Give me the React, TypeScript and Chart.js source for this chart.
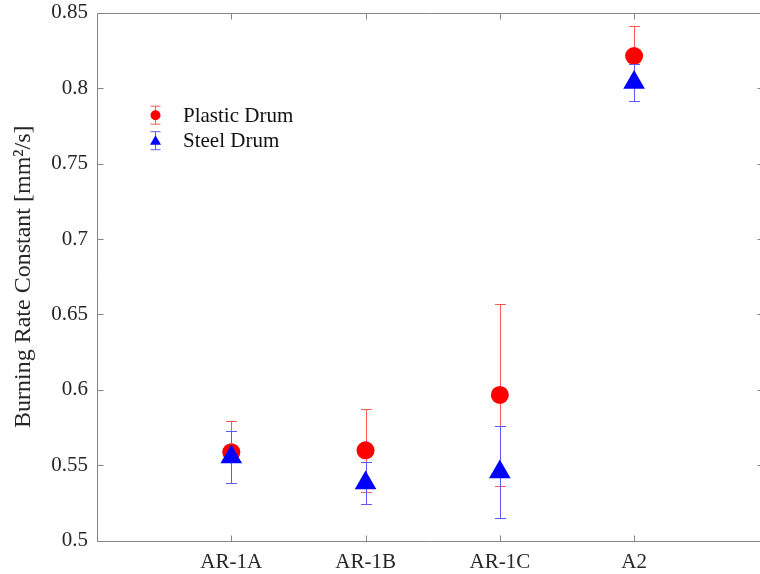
import React, { useEffect, useRef } from 'react';
import { Chart, registerables } from 'chart.js';

Chart.register(...registerables);

const categories = ['AR-1A', 'AR-1B', 'AR-1C', 'A2'];
const seriesNames = ['Plastic Drum', 'Steel Drum'];
const plasticValues = [0.5587, 0.5599, 0.5966, 0.8213];
const plasticErrors = [0.0207, 0.0276, 0.0603, 0.0201];
const steelValues = [0.5555, 0.5383, 0.5455, 0.8037];
const steelErrors = [0.017, 0.0141, 0.0305, 0.0121];
const yTicks = [0.5, 0.55, 0.6, 0.65, 0.7, 0.75, 0.8, 0.85];

const FONT = "'Liberation Serif', 'Times New Roman', serif";
const AXIS = '#858585';
const TEXT = '#262626';
const RED = '#ff0000';
const BLUE = '#0000ff';
const RED_BAR = '#ff5a5a';
const BLUE_BAR = '#5a5aff';

const errorsBySet = [plasticErrors, steelErrors];
const barColors = [RED_BAR, BLUE_BAR];

const errorBarPlugin = {
  id: 'errorBars',
  beforeDatasetDraw(chart: any, args: any) {
    const { ctx, scales } = chart;
    const idx = args.index;
    const ds = chart.data.datasets[idx];
    const errs = errorsBySet[idx];
    ctx.save();
    ctx.strokeStyle = barColors[idx];
    ctx.lineWidth = 1;
    ds.data.forEach((p: any, i: number) => {
      const x = Math.round(scales.x.getPixelForValue(p.x)) + 0.5;
      const yTop = Math.round(scales.y.getPixelForValue(p.y + errs[i])) + 0.5;
      const yBot = Math.round(scales.y.getPixelForValue(p.y - errs[i])) + 0.5;
      const cap = 5.5;
      ctx.beginPath();
      ctx.moveTo(x, yTop);
      ctx.lineTo(x, yBot);
      ctx.moveTo(x - cap, yTop);
      ctx.lineTo(x + cap, yTop);
      ctx.moveTo(x - cap, yBot);
      ctx.lineTo(x + cap, yBot);
      ctx.stroke();
    });
    ctx.restore();
  },
};

const boxPlugin = {
  id: 'axisBox',
  beforeDatasetsDraw(chart: any) {
    const { ctx, chartArea: a, scales } = chart;
    const L = Math.round(a.left) + 0.5;
    const R = Math.round(a.right) + 0.5;
    const T = Math.round(a.top) + 0.5;
    const B = Math.round(a.bottom) + 0.5;
    ctx.save();
    ctx.strokeStyle = AXIS;
    ctx.lineWidth = 1;
    ctx.beginPath();
    ctx.moveTo(R, T);
    ctx.lineTo(L, T);
    ctx.lineTo(L, B);
    ctx.lineTo(R, B);
    const tl = 6;
    categories.forEach((_, i) => {
      const x = Math.round(scales.x.getPixelForValue(i + 1)) + 0.5;
      ctx.moveTo(x, B);
      ctx.lineTo(x, B - tl);
      ctx.moveTo(x, T);
      ctx.lineTo(x, T + tl);
    });
    yTicks.forEach((v) => {
      const y = Math.round(scales.y.getPixelForValue(v)) + 0.5;
      ctx.moveTo(L, y);
      ctx.lineTo(L + tl, y);
      ctx.moveTo(R, y);
      ctx.lineTo(R - tl, y);
    });
    ctx.stroke();
    ctx.restore();
  },
};

const legendPlugin = {
  id: 'customLegend',
  afterDraw(chart: any) {
    const { ctx, chartArea: a } = chart;
    const mx = a.left + 58.5;
    const tx = a.left + 86;
    const rows = [
      { y: a.top + 102.5, color: RED, bar: RED_BAR, shape: 'circle' },
      { y: a.top + 128, color: BLUE, bar: BLUE_BAR, shape: 'triangle' },
    ];
    ctx.save();
    rows.forEach((r, i) => {
      ctx.strokeStyle = r.bar;
      ctx.lineWidth = 1;
      ctx.beginPath();
      ctx.moveTo(mx, r.y - 9);
      ctx.lineTo(mx, r.y + 9);
      ctx.moveTo(mx - 5, r.y - 9);
      ctx.lineTo(mx + 5, r.y - 9);
      ctx.moveTo(mx - 5, r.y + 9);
      ctx.lineTo(mx + 5, r.y + 9);
      ctx.stroke();
      ctx.fillStyle = r.color;
      ctx.beginPath();
      if (r.shape === 'circle') {
        ctx.arc(mx, r.y, 5, 0, Math.PI * 2);
      } else {
        ctx.moveTo(mx, r.y - 5.5);
        ctx.lineTo(mx + 5.5, r.y + 4);
        ctx.lineTo(mx - 5.5, r.y + 4);
        ctx.closePath();
      }
      ctx.fill();
      ctx.fillStyle = '#111';
      ctx.font = `21px ${FONT}`;
      ctx.textAlign = 'left';
      ctx.textBaseline = 'middle';
      ctx.fillText(seriesNames[i], tx, r.y + 1);
    });
    ctx.restore();
  },
};

const zeroPadding = (s: any) => {
  s.paddingLeft = 0;
  s.paddingRight = 0;
  s.paddingTop = 0;
  s.paddingBottom = 0;
};

export default function App() {
  const ref = useRef<HTMLCanvasElement | null>(null);

  useEffect(() => {
    if (!ref.current) return;
    const chart = new Chart(ref.current, {
      type: 'scatter',
      data: {
        datasets: [
          {
            label: seriesNames[0],
            data: plasticValues.map((v, i) => ({ x: i + 1, y: v })),
            pointStyle: 'circle',
            pointRadius: 9,
            pointBackgroundColor: RED,
            pointBorderColor: RED,
            pointBorderWidth: 0,
            order: 2,
          },
          {
            label: seriesNames[1],
            data: steelValues.map((v, i) => ({ x: i + 1, y: v })),
            pointStyle: 'triangle',
            pointRadius: 12.5,
            pointBackgroundColor: BLUE,
            pointBorderColor: BLUE,
            pointBorderWidth: 0,
            order: 1,
          },
        ],
      },
      options: {
        responsive: false,
        animation: false,
        devicePixelRatio: 1,
        layout: { padding: { left: 0, right: 17, top: 12.7, bottom: 0 } },
        plugins: {
          legend: { display: false },
          tooltip: { enabled: false },
        },
        scales: {
          x: {
            type: 'linear',
            min: 0,
            max: 4.96,
            afterBuildTicks: (s: any) => {
              s.ticks = categories.map((_, i) => ({ value: i + 1 }));
            },
            afterFit: (s: any) => {
              s.height = 33.3;
              zeroPadding(s);
            },
            grid: { display: false, drawTicks: false },
            border: { display: false },
            ticks: {
              autoSkip: false,
              maxRotation: 0,
              padding: 9,
              color: TEXT,
              font: { family: FONT, size: 21 },
              callback: (v: any) => categories[Number(v) - 1] ?? '',
            },
          },
          y: {
            type: 'linear',
            min: 0.5,
            max: 0.85,
            afterBuildTicks: (s: any) => {
              s.ticks = yTicks.map((v) => ({ value: v }));
            },
            afterFit: (s: any) => {
              s.width = 97;
              zeroPadding(s);
            },
            grid: { display: false, drawTicks: false },
            border: { display: false },
            ticks: {
              padding: 9,
              color: TEXT,
              font: { family: FONT, size: 21 },
              callback: (v: any) => String(Number(Number(v).toFixed(2))),
            },
            title: {
              display: true,
              text: 'Burning Rate Constant [mm²/s]',
              color: TEXT,
              font: { family: FONT, size: 24 },
              padding: { top: 9, bottom: 0 },
            },
          },
        },
      },
      plugins: [boxPlugin, errorBarPlugin, legendPlugin],
    } as any);
    return () => chart.destroy();
  }, []);

  return (
    <div
      style={{
        position: 'fixed',
        left: 0,
        top: 0,
        width: 760,
        height: 574,
        overflow: 'hidden',
        background: '#fff',
      }}
    >
      <canvas ref={ref} width={780} height={574} style={{ display: 'block' }} />
    </div>
  );
}
